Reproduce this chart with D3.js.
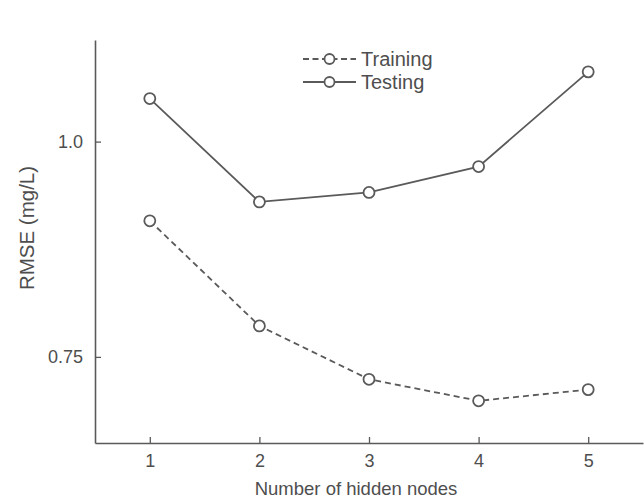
<!DOCTYPE html>
<html>
<head>
<meta charset="utf-8">
<script src="https://cdn.jsdelivr.net/npm/d3@7"></script>
<style>
  html, body { margin: 0; padding: 0; background: #fff; }
  svg { display: block; font-family: "Liberation Sans", Arial, sans-serif; }
</style>
</head>
<body>
<svg id="chart" width="644" height="500"></svg>
<script>
const nodes = [1, 2, 3, 4, 5];
const training = [0.908, 0.786, 0.724, 0.699, 0.712];
const testing = [1.050, 0.930, 0.941, 0.971, 1.081];
const yTicks = [0.75, 1.0];
const seriesNames = ['Training', 'Testing'];

const ink = '#5a5a5a';
const textInk = '#4e4e4e';
const svg = d3.select('#chart');

const x = d3.scaleLinear().domain([0.5, 5.5]).range([95, 643]);
const y = d3.scaleLinear().domain([0.65, 1.118]).range([443, 40]);

// axes, ticks point inward
const xAxis = svg.append('g')
  .attr('transform', `translate(0,${y(0.65)})`)
  .call(d3.axisBottom(x).tickValues(nodes).tickSizeInner(-6).tickSizeOuter(0)
    .tickPadding(11).tickFormat(d3.format('d')));
const yAxis = svg.append('g')
  .attr('transform', `translate(${x(0.5)},0)`)
  .call(d3.axisLeft(y).tickValues(yTicks).tickSizeInner(-6).tickSizeOuter(0)
    .tickPadding(12).tickFormat(d => d === 1 ? '1.0' : d));

[xAxis, yAxis].forEach(a => {
  a.select('.domain').attr('stroke', ink).attr('stroke-width', 1.6);
  a.selectAll('.tick line').attr('stroke', ink).attr('stroke-width', 1.3);
  a.selectAll('.tick text').attr('fill', textInk).attr('font-size', 18)
    .attr('font-family', '"Liberation Sans", Arial, sans-serif');
});

svg.append('text')
  .attr('x', 356).attr('y', 495)
  .attr('text-anchor', 'middle')
  .attr('font-size', 18.5).attr('fill', textInk)
  .text('Number of hidden nodes');

svg.append('text')
  .attr('transform', 'translate(34,228) rotate(-90)')
  .attr('text-anchor', 'middle')
  .attr('font-size', 20.5).attr('fill', textInk)
  .text('RMSE (mg/L)');

const line = d3.line().x((d, i) => x(nodes[i])).y(d => y(d));
const series = [
  { name: seriesNames[0], vals: training, dash: '6,4' },
  { name: seriesNames[1], vals: testing, dash: null }
];

series.forEach(s => {
  svg.append('path')
    .datum(s.vals)
    .attr('d', line)
    .attr('fill', 'none')
    .attr('stroke', ink)
    .attr('stroke-width', 1.8)
    .attr('stroke-dasharray', s.dash);
  svg.selectAll(null)
    .data(s.vals)
    .enter().append('circle')
    .attr('cx', (d, i) => x(nodes[i]))
    .attr('cy', d => y(d))
    .attr('r', 5.5)
    .attr('fill', '#fff')
    .attr('stroke', ink)
    .attr('stroke-width', 1.8);
});

// legend
const leg = svg.append('g').attr('transform', 'translate(303,59)');
series.forEach((s, i) => {
  const row = leg.append('g').attr('transform', `translate(0,${i * 23})`);
  row.append('line')
    .attr('x1', 0).attr('x2', 53).attr('y1', 0).attr('y2', 0)
    .attr('stroke', ink).attr('stroke-width', 1.8)
    .attr('stroke-dasharray', s.dash ? '6,3.5' : null);
  row.append('circle')
    .attr('cx', 26.5).attr('cy', 0).attr('r', 5)
    .attr('fill', '#fff').attr('stroke', ink).attr('stroke-width', 1.8);
  row.append('text')
    .attr('x', 58).attr('y', 0).attr('dy', '0.36em')
    .attr('font-size', 20).attr('fill', textInk)
    .text(s.name);
});
</script>
</body>
</html>
